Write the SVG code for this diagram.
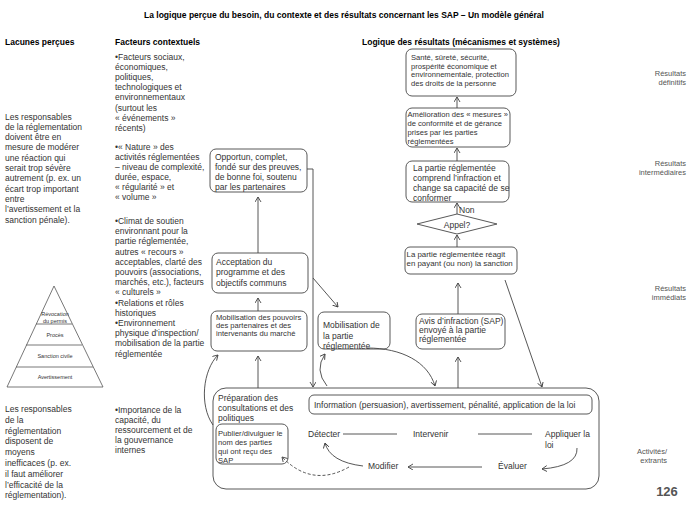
<svg xmlns="http://www.w3.org/2000/svg" width="688" height="516" viewBox="0 0 688 516">
<defs>
<marker id="ah" markerUnits="userSpaceOnUse" markerWidth="8" markerHeight="8" refX="5" refY="3" orient="auto">
<path d="M0,0 L5,3 L0,6" fill="none" stroke="#444" stroke-width="0.9"/>
</marker>
<style>
text{font-family:"Liberation Sans",Arial,sans-serif;fill:#333}
.t{font-size:8.5px}
.s{font-size:7.6px}
.h{font-size:8.5px;font-weight:bold;fill:#000}
.r{font-size:7.5px;fill:#555;text-anchor:end}
.p{font-size:5.5px;text-anchor:middle}
.box{fill:#fff;stroke:#595959;stroke-width:1}
.c{fill:none;stroke:#444;stroke-width:0.9}
.a{marker-end:url(#ah)}
</style>
</defs>
<rect width="688" height="516" fill="#fff"/>

<text class="h" x="344" y="18" text-anchor="middle">La logique perçue du besoin, du contexte et des résultats concernant les SAP – Un modèle général</text>
<text class="h" x="5" y="45">Lacunes perçues</text>
<text class="h" x="115" y="45">Facteurs contextuels</text>
<text class="h" x="362" y="45">Logique des résultats (mécanismes et systèmes)</text>

<g id="lacunes-haut">
<text class="t" x="5"><tspan x="5" y="119.5">Les responsables</tspan><tspan x="5" y="129.8">de la réglementation</tspan><tspan x="5" y="140.1">doivent être en</tspan><tspan x="5" y="150.4">mesure de modérer</tspan><tspan x="5" y="160.7">une réaction qui</tspan><tspan x="5" y="171">serait trop sévère</tspan><tspan x="5" y="181.3">autrement (p. ex. un</tspan><tspan x="5" y="191.6">écart trop important</tspan><tspan x="5" y="201.9">entre</tspan><tspan x="5" y="212.2">l’avertissement et la</tspan><tspan x="5" y="222.5">sanction pénale).</tspan></text>
</g>

<g id="lacunes-bas">
<text class="t"><tspan x="5" y="412">Les responsables</tspan><tspan x="5" y="422.8">de la</tspan><tspan x="5" y="433.6">réglementation</tspan><tspan x="5" y="444.4">disposent de</tspan><tspan x="5" y="455.2">moyens</tspan><tspan x="5" y="466">inefficaces (p. ex.</tspan><tspan x="5" y="476.8">il faut améliorer</tspan><tspan x="5" y="487.6">l’efficacité de la</tspan><tspan x="5" y="498.4">réglementation).</tspan></text>
</g>

<g id="pyramide">
<polygon points="54,286 7,387 103,387" fill="none" stroke="#555" stroke-width="0.8"/>
<line x1="36" y1="324" x2="72" y2="324" stroke="#555" stroke-width="0.8"/>
<line x1="26" y1="345" x2="82" y2="345" stroke="#555" stroke-width="0.8"/>
<line x1="16" y1="367" x2="93" y2="367" stroke="#555" stroke-width="0.8"/>
<text class="p" x="55" y="316">Révocation</text>
<text class="p" x="55" y="323">du permis</text>
<text class="p" x="55" y="337">Procès</text>
<text class="p" x="55" y="358">Sanction civile</text>
<text class="p" x="55" y="379">Avertissement</text>
</g>

<g id="facteurs">
<text class="t"><tspan x="115" y="59.5">•Facteurs sociaux,</tspan><tspan x="115" y="69.7">économiques,</tspan><tspan x="115" y="79.9">politiques,</tspan><tspan x="115" y="90.1">technologiques et</tspan><tspan x="115" y="100.3">environnementaux</tspan><tspan x="115" y="110.5">(surtout les</tspan><tspan x="115" y="120.7">« événements »</tspan><tspan x="115" y="130.9">récents)</tspan>
<tspan x="115" y="150">•« Nature » des</tspan><tspan x="115" y="160">activités réglementées</tspan><tspan x="115" y="170">– niveau de complexité,</tspan><tspan x="115" y="180">durée, espace,</tspan><tspan x="115" y="190">« régularité » et</tspan><tspan x="115" y="200">« volume »</tspan>
<tspan x="115" y="224">•Climat de soutien</tspan><tspan x="115" y="234.2">environnant pour la</tspan><tspan x="115" y="244.4">partie réglementée,</tspan><tspan x="115" y="254.6">autres « recours »</tspan><tspan x="115" y="264.8">acceptables, clarté des</tspan><tspan x="115" y="275">pouvoirs (associations,</tspan><tspan x="115" y="285.2">marchés, etc.), facteurs</tspan><tspan x="115" y="295.4">« culturels »</tspan><tspan x="115" y="305.6">•Relations et rôles</tspan><tspan x="115" y="315.8">historiques</tspan><tspan x="115" y="326">•Environnement</tspan><tspan x="115" y="336.2">physique d’inspection/</tspan><tspan x="115" y="346.4">mobilisation de la partie</tspan><tspan x="115" y="356.6">réglementée</tspan>
<tspan x="115" y="413">•Importance de la</tspan><tspan x="115" y="423">capacité, du</tspan><tspan x="115" y="433">ressourcement et de</tspan><tspan x="115" y="443">la gouvernance</tspan><tspan x="115" y="453">internes</tspan></text>
</g>

<g id="niveaux">
<text class="r"><tspan x="686" y="75.5">Résultats</tspan><tspan x="686" y="84.5">définitifs</tspan></text>
<text class="r"><tspan x="686" y="165.5">Résultats</tspan><tspan x="686" y="174.5">intermédiaires</tspan></text>
<text class="r"><tspan x="686" y="290.5">Résultats</tspan><tspan x="686" y="299.5">immédiats</tspan></text>
<text class="r"><tspan x="667" y="453.5">Activités/</tspan><tspan x="667" y="462.5">extrants</tspan></text>
<text x="667" y="496" text-anchor="middle" style="font-size:13px;font-weight:bold;fill:#555">126</text>
</g>

<g id="n-sante">
<rect class="box" x="406" y="49" width="110" height="47" rx="6"/>
<text class="s"><tspan x="411" y="59.5">Santé, sûreté, sécurité,</tspan><tspan x="411" y="68.5">prospérité économique et</tspan><tspan x="411" y="77">environnementale, protection</tspan><tspan x="411" y="85.5">des droits de la personne</tspan></text>
</g>
<g id="n-amelioration">
<rect class="box" x="406" y="108" width="104" height="39" rx="6"/>
<text class="s"><tspan x="407.5" y="116.5">Amélioration des « mesures »</tspan><tspan x="407.5" y="125.8">de conformité et de gérance</tspan><tspan x="407.5" y="135">prises par les parties</tspan><tspan x="407.5" y="144">réglementées</tspan></text>
</g>
<g id="n-comprend">
<rect class="box" x="406" y="161" width="103" height="41" rx="6"/>
<text class="t"><tspan x="413" y="170.5">La partie réglementée</tspan><tspan x="413" y="180.5">comprend l’infraction et</tspan><tspan x="413" y="190.5">change sa capacité de se</tspan><tspan x="413" y="200.7">conformer</tspan></text>
</g>
<g id="n-appel">
<polygon class="box" points="417,224 457,214 497,224 457,234"/>
<text class="t" x="457" y="227.5" text-anchor="middle">Appel?</text>
<text class="t" x="459" y="213">Non</text>
</g>
<g id="n-reagit">
<rect class="box" x="405" y="247" width="112" height="27" rx="5"/>
<text style="font-size:7.9px"><tspan x="406.5" y="257">La partie réglementée réagit</tspan><tspan x="406.5" y="266">en payant (ou non) la sanction</tspan></text>
</g>
<g id="n-avis">
<rect class="box" x="416" y="314" width="89" height="35" rx="6"/>
<text class="t"><tspan x="419" y="324">Avis d’infraction (SAP)</tspan><tspan x="419" y="333">envoyé à la partie</tspan><tspan x="419" y="342">réglementée</tspan></text>
</g>
<g id="n-opportun">
<rect class="box" x="210" y="149" width="97" height="43" rx="6"/>
<text class="t"><tspan x="215" y="159.5">Opportun, complet,</tspan><tspan x="215" y="170">fondé sur des preuves,</tspan><tspan x="215" y="180.3">de bonne foi, soutenu</tspan><tspan x="215" y="190.3">par les partenaires</tspan></text>
</g>
<g id="n-acceptation">
<rect class="box" x="212" y="253" width="96" height="40" rx="6"/>
<text class="t"><tspan x="216" y="265">Acceptation du</tspan><tspan x="216" y="275.3">programme et des</tspan><tspan x="216" y="285.5">objectifs communs</tspan></text>
</g>
<g id="n-mobpouvoirs">
<rect class="box" x="211" y="311" width="96" height="40" rx="6"/>
<text class="s"><tspan x="216" y="319.5">Mobilisation des pouvoirs</tspan><tspan x="216" y="327.8">des partenaires et des</tspan><tspan x="216" y="336">intervenants du marché</tspan></text>
</g>
<g id="n-mobpartie">
<rect class="box" x="318" y="312" width="72" height="37" rx="6"/>
<text class="t"><tspan x="323" y="328">Mobilisation de</tspan><tspan x="323" y="338.5">la partie</tspan><tspan x="323" y="349">réglementée</tspan></text>
</g>
<g id="n-activites">
<rect class="box" x="213" y="388" width="386" height="101" rx="13"/>
<text class="t"><tspan x="218" y="400.5">Préparation des</tspan><tspan x="218" y="410.5">consultations et des</tspan><tspan x="218" y="420.5">politiques</tspan></text>
</g>
<g id="n-information">
<rect class="box" x="309" y="395" width="283" height="19" rx="5"/>
<text class="t" x="314" y="407.5">Information (persuasion), avertissement, pénalité, application de la loi</text>
</g>
<g id="n-publier">
<rect class="box" x="216" y="424" width="72" height="40" rx="6"/>
<text class="s"><tspan x="218" y="435.5">Publier/divulguer le</tspan><tspan x="218" y="444.5">nom des parties</tspan><tspan x="218" y="453.5">qui ont reçu des</tspan><tspan x="218" y="462.5">SAP</tspan></text>
</g>
<g id="n-cycle">
<text class="t" x="308" y="437">Détecter</text>
<text class="t" x="413" y="437">Intervenir</text>
<text class="t"><tspan x="545" y="437">Appliquer la</tspan><tspan x="545" y="448">loi</tspan></text>
<text class="t" x="368" y="468.5">Modifier</text>
<text class="t" x="498" y="468.5">Évaluer</text>
</g>

<g id="connecteurs">
<line class="c a" x1="457" y1="108" x2="457" y2="97"/>
<line class="c a" x1="457" y1="161" x2="457" y2="148"/>
<line class="c a" x1="457" y1="214" x2="457" y2="203"/>
<line class="c a" x1="457" y1="247" x2="457" y2="235"/>
<line class="c a" x1="458" y1="314" x2="458" y2="283"/>
<line class="c a" x1="458" y1="388" x2="458" y2="357"/>
<line class="c a" x1="505" y1="280" x2="542" y2="387"/>
<line class="c a" x1="258" y1="253" x2="258" y2="197"/>
<line class="c a" x1="258" y1="311" x2="258" y2="298"/>
<line class="c a" x1="258" y1="388" x2="258" y2="356"/>
<polyline class="c a" points="307,169 313,169 313,387"/>
<line class="c a" x1="313" y1="278" x2="338" y2="307"/>
<path class="c a" d="M367,348 C402,348 428,362 435,386"/>
<path class="c a" d="M327,386 Q314,370 325,354"/>
<path class="c a" d="M213,425 C199,405 203,370 218,355"/>
<line class="c" x1="343" y1="434" x2="397" y2="434"/>
<line class="c" x1="478" y1="434" x2="532" y2="434"/>
<path class="c a" d="M577,448 Q578,466 542,469"/>
<line class="c a" x1="482" y1="467" x2="408" y2="467"/>
<path class="c a" d="M363,466 Q330,462 325,443"/>
<path class="c a" d="M349,467 Q312,488 282,457" stroke-dasharray="3,2"/>
</g>
</svg>
